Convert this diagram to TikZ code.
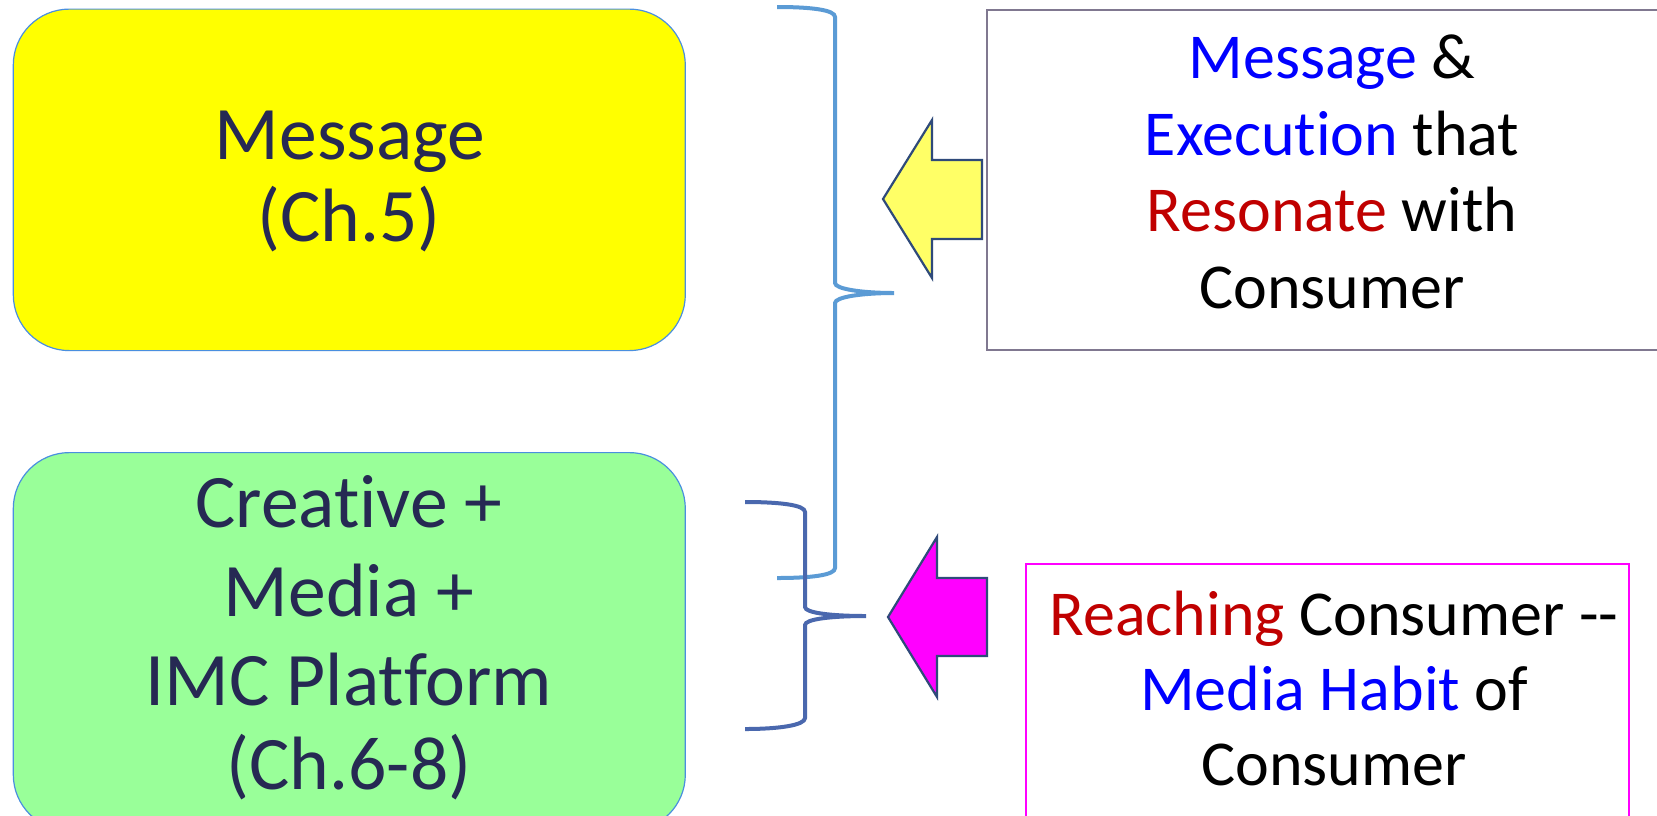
\documentclass[tikz,border=0pt]{standalone}
\usepackage{fontspec}
\setmainfont{Carlito}[Ligatures={NoCommon}]
\definecolor{navytext}{HTML}{262953}
\definecolor{boxblue}{HTML}{4A8FDF}
\definecolor{yellowfill}{HTML}{FFFF00}
\definecolor{greenfill}{HTML}{99FF99}
\definecolor{greyborder}{HTML}{807890}
\definecolor{arrowborder}{HTML}{2F4A7A}
\definecolor{arrowyellow}{HTML}{FFFF66}
\definecolor{pinkmag}{HTML}{FF00FF}
\definecolor{braceone}{HTML}{5B9BD5}
\definecolor{bracetwo}{HTML}{4A68AE}
\definecolor{wordblue}{HTML}{0000FF}
\definecolor{wordred}{HTML}{C00000}
\begin{document}
\begin{tikzpicture}[x=0.5pt,y=-0.5pt,
  chapterbox/.style={draw=boxblue, line width=0.6pt, rounded corners=28pt, anchor=north west, minimum width=336pt, inner sep=0pt},
  notebox/.style={line width=1pt, fill=white, anchor=north west, inner sep=0pt},
  bigline/.style={anchor=base, text=navytext, font=\fontsize{37.8pt}{44pt}\selectfont, inner sep=0pt},
  smallline/.style={anchor=base, text=black, font=\fontsize{32pt}{38pt}\selectfont, inner sep=0pt},
  blockarrow/.style={draw=arrowborder, line width=1.1pt, line join=miter},
  bracepath/.style={line width=2pt, line cap=butt}
]
\useasboundingbox (0,0) rectangle (1657,815);
\clip (0,0) rectangle (1657,815);
\fill[white] (0,0) rectangle (1657,815);

% left boxes
\node[chapterbox, fill=yellowfill, minimum height=170.75pt] (msgbox) at (12.7,8.5) {};
\node[chapterbox, fill=greenfill, minimum height=189pt] (crbox) at (12.7,452) {};

\node[bigline] (m1) at (350,159.3) {Message};
\node[bigline] (m2) at (349,241) {(Ch.5)};

\node[bigline] (c1) at (349,527) {Creative +};
\node[bigline] (c2) at (349,616) {Media +};
\node[bigline] (c3) at (349,705) {IMC Platform};
\node[bigline] (c4) at (349,789) {(Ch.6-8)};

% right boxes
\node[notebox, draw=greyborder, minimum width=345pt, minimum height=170.25pt] (resbox) at (986,8.5) {};
\node[notebox, draw=pinkmag, minimum width=301.25pt, minimum height=150pt] (reachbox) at (1025,563) {};

\node[smallline] (r1) at (1332,78.3) {\textcolor{wordblue}{Message} \&};
\node[smallline] (r2) at (1332,155) {\textcolor{wordblue}{Execution} that};
\node[smallline] (r3) at (1332,231.7) {\textcolor{wordred}{Resonate} with};
\node[smallline] (r4) at (1332,308.3) {Consumer};

\node[smallline] (h1) at (1334,635) {\textcolor{wordred}{Reaching} Consumer -{}-};
\node[smallline] (h2) at (1334,710.7) {\textcolor{wordblue}{Media Habit} of};
\node[smallline] (h3) at (1334,785) {Consumer};

% braces
\draw[bracepath, draw=braceone] (777,7) .. controls (812,7) and (835,10) .. (835,17)
  -- (835,283) .. controls (835,289) and (862,293) .. (894,293)
  .. controls (862,293) and (835,297) .. (835,303)
  -- (835,568) .. controls (835,575) and (812,578) .. (777,578);
\draw[bracepath, draw=bracetwo] (745,502) .. controls (780,502) and (805,505) .. (805,512)
  -- (805,607) .. controls (805,613) and (832,616) .. (866,616)
  .. controls (832,616) and (805,619) .. (805,625)
  -- (805,718) .. controls (805,725) and (780,729) .. (745,729);

% block arrows
\draw[blockarrow, fill=arrowyellow] (883,199) -- (932,120) -- (932,160) -- (982,160)
  -- (982,239) -- (932,239) -- (932,278) -- cycle;
\draw[blockarrow, fill=pinkmag] (888,617) -- (937,537) -- (937,578) -- (987,578)
  -- (987,656) -- (937,656) -- (937,697) -- cycle;
\end{tikzpicture}
\end{document}
